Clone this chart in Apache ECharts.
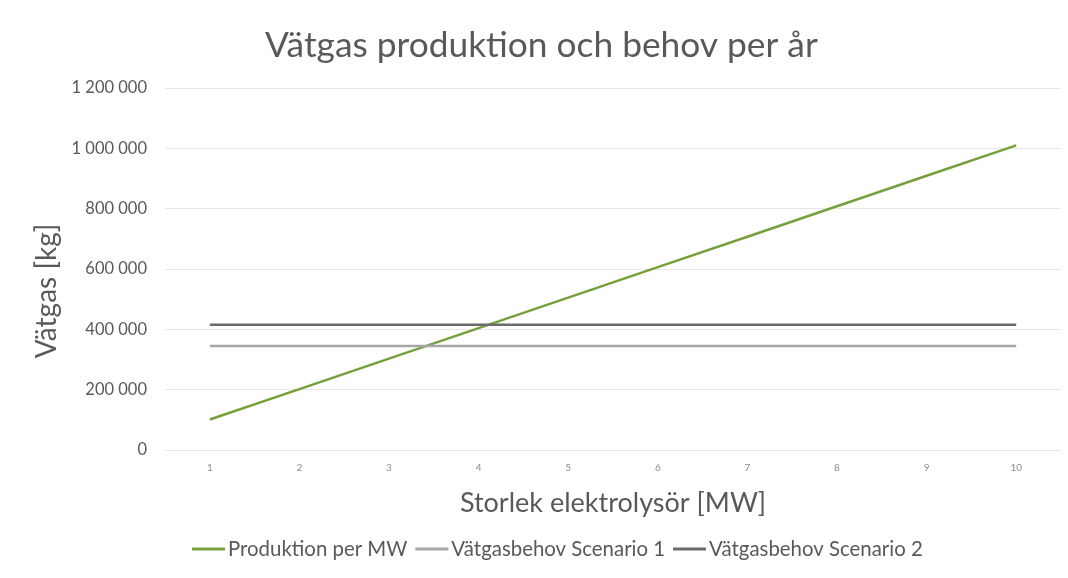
<!DOCTYPE html>
<html>
<head>
<meta charset="utf-8">
<script src="https://cdn.jsdelivr.net/npm/echarts@6/dist/echarts.min.js"></script>
<style>
  html, body { margin: 0; padding: 0; background: #fff; }
  #myChart { width: 1068px; height: 578px; }
</style>
</head>
<body>
<div id="myChart"></div>
<script>
  // storlek elektrolysör, MW
  var categories = ['1', '2', '3', '4', '5', '6', '7', '8', '9', '10'];
  // vätgas kg per år
  var produktion = [101000, 202000, 303000, 404000, 505000, 606000, 707000, 808000, 909000, 1010000];
  var scenario1 = [345000, 345000, 345000, 345000, 345000, 345000, 345000, 345000, 345000, 345000];
  var scenario2 = [415000, 415000, 415000, 415000, 415000, 415000, 415000, 415000, 415000, 415000];

  var font = 'Lato';
  function fmt(v) {
    return String(v).replace(/\B(?=(\d{3})+(?!\d))/g, ' ');
  }

  var myChart = echarts.init(document.getElementById('myChart'));
  var option = {
    animation: false,
    backgroundColor: '#ffffff',
    title: {
      text: 'Vätgas produktion och behov per år',
      left: 260,
      top: 23,
      textStyle: { fontFamily: font, fontSize: 35.3, fontWeight: 'normal', color: '#595959' }
    },
    legend: {
      bottom: 14,
      left: 187,
      itemWidth: 33,
      itemHeight: 3,
      itemGap: 8,
      icon: 'rect',
      textStyle: { fontFamily: font, fontSize: 20.4, color: '#595959', padding: [0, 0, 0, -2] },
      data: ['Produktion per MW', 'Vätgasbehov Scenario 1', 'Vätgasbehov Scenario 2']
    },
    grid: { left: 165, right: 7, top: 88, bottom: 128 },
    xAxis: {
      type: 'category',
      data: categories,
      boundaryGap: true,
      name: 'Storlek elektrolysör [MW]',
      nameLocation: 'middle',
      nameGap: 40,
      nameTextStyle: { fontFamily: font, fontSize: 27, color: '#595959' },
      axisLine: { lineStyle: { color: '#e6e6e6' } },
      axisTick: { show: false },
      axisLabel: { fontFamily: font, fontSize: 10, color: '#8c8c8c', margin: 13 }
    },
    yAxis: {
      type: 'value',
      min: 0,
      max: 1200000,
      interval: 200000,
      name: 'Vätgas [kg]',
      nameLocation: 'middle',
      nameGap: 104,
      nameTextStyle: { fontFamily: font, fontSize: 28, color: '#595959', padding: [0, 44, 0, 0] },
      axisLine: { show: false },
      axisTick: { show: false },
      axisLabel: { fontFamily: font, fontSize: 16.5, color: '#595959', margin: 18, formatter: fmt },
      splitLine: { lineStyle: { color: '#e6e6e6' } }
    },
    series: [
      {
        name: 'Produktion per MW', type: 'line', data: produktion,
        symbol: 'none', lineStyle: { width: 2.5, color: '#76a03c' }, itemStyle: { color: '#76a03c' }
      },
      {
        name: 'Vätgasbehov Scenario 1', type: 'line', data: scenario1,
        symbol: 'none', lineStyle: { width: 2.5, color: '#a6a6a6' }, itemStyle: { color: '#a6a6a6' }
      },
      {
        name: 'Vätgasbehov Scenario 2', type: 'line', data: scenario2,
        symbol: 'none', lineStyle: { width: 2.5, color: '#6b6b6b' }, itemStyle: { color: '#6b6b6b' }
      }
    ]
  };
  myChart.setOption(option);
</script>
</body>
</html>
